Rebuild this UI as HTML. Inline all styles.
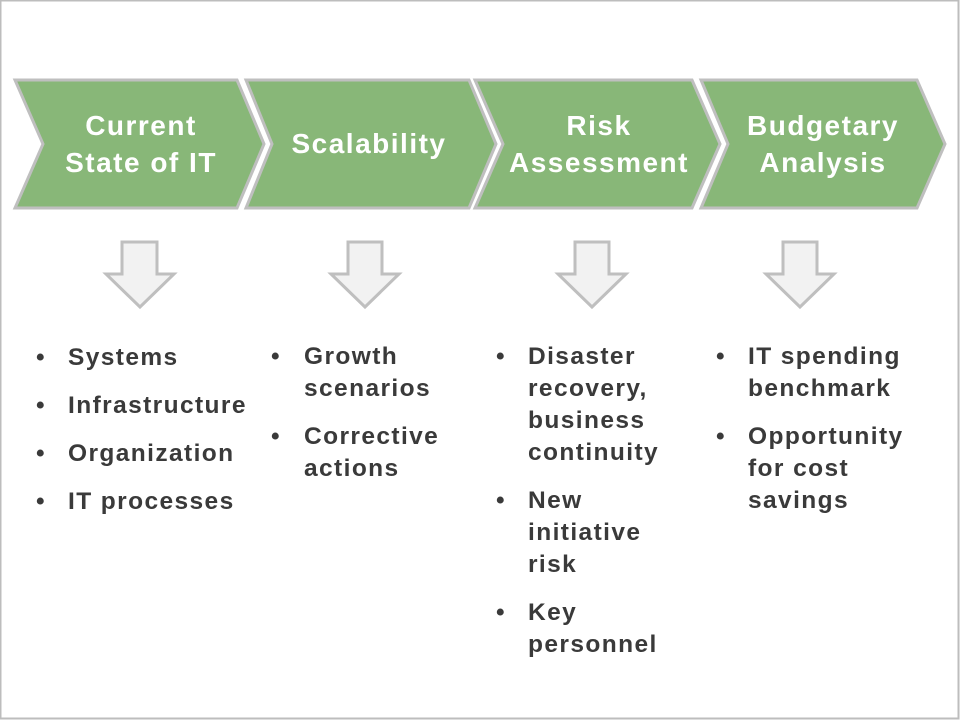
<!DOCTYPE html>
<html><head><meta charset="utf-8"><style>
html,body{margin:0;padding:0;background:#fff}
svg{display:block}
text{font-family:"Liberation Sans",sans-serif;font-weight:bold}
.h{fill:#fff;font-size:28px;text-anchor:middle;letter-spacing:1.5px}
.b{fill:#3a3a3a;font-size:24.5px;letter-spacing:1.4px}
</style></head><body>
<svg width="960" height="720" viewBox="0 0 960 720">
<rect x="0.5" y="0.5" width="958" height="718" fill="#fff" stroke="#bdbdbd" stroke-width="2"/>
<g fill="#88b778" stroke="#bfbfbf" stroke-width="3" stroke-linejoin="miter">
<polygon points="15,80 237,80 264,144 237,208 15,208 43,144"/>
<polygon points="246,80 469,80 496,144 469,208 246,208 272,144"/>
<polygon points="475,80 692,80 720,144 692,208 475,208 503,144"/>
<polygon points="701,80 917,80 945,144 917,208 701,208 728,144"/>
</g>
<text class="h" x="141" y="135">Current</text>
<text class="h" x="141" y="172">State of IT</text>
<text class="h" x="369" y="153">Scalability</text>
<text class="h" x="599" y="135">Risk</text>
<text class="h" x="599" y="172">Assessment</text>
<text class="h" x="823" y="135">Budgetary</text>
<text class="h" x="823" y="172">Analysis</text>
<g fill="#f2f2f2" stroke="#bfbfbf" stroke-width="3">
<polygon points="122,242 157,242 157,274 174,274 140,307 106,274 122,274"/>
<polygon points="348,242 382,242 382,274 399,274 365,307 331,274 348,274"/>
<polygon points="575,242 609,242 609,274 626,274 592,307 558,274 575,274"/>
<polygon points="783,242 817,242 817,274 834,274 800,307 766,274 783,274"/>
</g>
<g class="b">
<text x="36" y="365">•</text><text x="68" y="365">Systems</text>
<text x="36" y="413">•</text><text x="68" y="413">Infrastructure</text>
<text x="36" y="461">•</text><text x="68" y="461">Organization</text>
<text x="36" y="509">•</text><text x="68" y="509">IT processes</text>

<text x="271" y="364">•</text><text x="304" y="364">Growth</text>
<text x="304" y="396">scenarios</text>
<text x="271" y="444">•</text><text x="304" y="444">Corrective</text>
<text x="304" y="476">actions</text>

<text x="496" y="364">•</text><text x="528" y="364">Disaster</text>
<text x="528" y="396">recovery,</text>
<text x="528" y="428">business</text>
<text x="528" y="460">continuity</text>
<text x="496" y="508">•</text><text x="528" y="508">New</text>
<text x="528" y="540">initiative</text>
<text x="528" y="572">risk</text>
<text x="496" y="620">•</text><text x="528" y="620">Key</text>
<text x="528" y="652">personnel</text>

<text x="716" y="364">•</text><text x="748" y="364">IT spending</text>
<text x="748" y="396">benchmark</text>
<text x="716" y="444">•</text><text x="748" y="444">Opportunity</text>
<text x="748" y="476">for cost</text>
<text x="748" y="508">savings</text>
</g>
</svg>
</body></html>
